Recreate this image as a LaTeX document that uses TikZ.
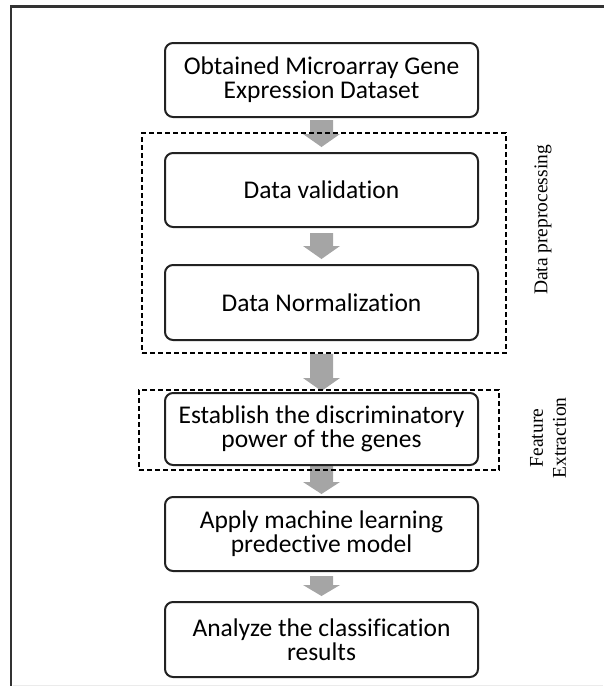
\documentclass[tikz,border=0pt]{standalone}
\usepackage{fontspec}
\setmainfont{Carlito}[Ligatures=NoCommon]
\newfontfamily\serifside{Liberation Serif}
\usetikzlibrary{calc,backgrounds}
\definecolor{arrowgray}{HTML}{A5A5A5}
\definecolor{framegray}{HTML}{333333}
\definecolor{boxline}{HTML}{222222}

% Grey block arrow: shaft from #1 down to the head, tip at #2, head length #3
\newcommand\flowarrow[3]{%
  \fill[arrowgray] let \p1=(#1), \p2=(#2) in
    (\x1-11.5pt,\y1) -- (\x1+11.5pt,\y1) -- (\x1+11.5pt,\y2+#3)
    -- (\x1+18.5pt,\y2+#3) -- (\x1,\y2) -- (\x1-18.5pt,\y2+#3)
    -- (\x1-11.5pt,\y2+#3) -- cycle;}

\tikzset{
  stage/.style={draw=boxline, line width=2pt, rounded corners=8pt,
    fill=white, minimum width=313pt, minimum height=74pt, align=center,
    inner sep=0pt, text=black, font=\fontsize{25.5}{24}\selectfont},
  group/.style={draw=black, line width=1.8pt, dash pattern=on 5pt off 3pt,
    inner sep=0pt},
  sidelabel/.style={rotate=90, align=center, inner sep=0pt, text=black,
    font=\serifside\fontsize{19.5}{23}\selectfont},
}

\begin{document}
\begin{tikzpicture}[x=1pt,y=-1pt]
\useasboundingbox (0,0) rectangle (603,686);

% page frame, open to the right and bottom
\coordinate (frameBL) at (11,690);
\coordinate (frameTL) at (11,6.5);
\coordinate (frameTR) at (606,6.5);
\draw[framegray, line width=2.5pt] (frameBL) -- (frameTL) -- (frameTR);
\coordinate (edgeL) at (13,685.5);
\coordinate (edgeR) at (603,685.5);
\draw[black!8, line width=1pt] (edgeL) -- (edgeR);

% process stages
\node[stage, minimum height=74pt] (obtain) at (321.5,80) {Obtained Microarray Gene\\Expression Dataset};
\node[stage, minimum height=74pt] (valid) at (321.5,190) {Data validation};
\node[stage, minimum height=75pt] (norm) at (321.5,302.5) {Data Normalization};
\node[stage, minimum height=72pt] (disc) at (321.5,429) {Establish the discriminatory\\power of the genes};
\node[stage, minimum height=74pt] (apply) at (321.5,534) {Apply machine learning\\predective model};
\node[stage, minimum height=75pt] (analyze) at (321.5,639.5) {Analyze the classification\\results};

% dashed groups
\node[group, minimum width=364pt, minimum height=220pt] (prep) at (324,243) {};
\node[group, minimum width=360pt, minimum height=80pt] (feat) at (319,430) {};

% group labels
\node[sidelabel] (preplabel) at (543,220) {Data preprocessing};
\node[sidelabel] (featlabel) at (548,438) {Feature\\Extraction};

% block arrows, behind the dashed frames
\begin{pgfonlayer}{background}
\flowarrow{[yshift=-2pt]obtain.south}{[yshift=5pt]valid.north}{13pt}
\flowarrow{[yshift=-5pt]valid.south}{[yshift=5pt]norm.north}{13pt}
\flowarrow{prep.south-|norm.south}{[yshift=1pt]disc.north}{13pt}
\flowarrow{disc.south}{[yshift=2pt]apply.north}{12pt}
\flowarrow{[yshift=-4pt]apply.south}{[yshift=5pt]analyze.north}{11pt}
\end{pgfonlayer}
\end{tikzpicture}
\end{document}
